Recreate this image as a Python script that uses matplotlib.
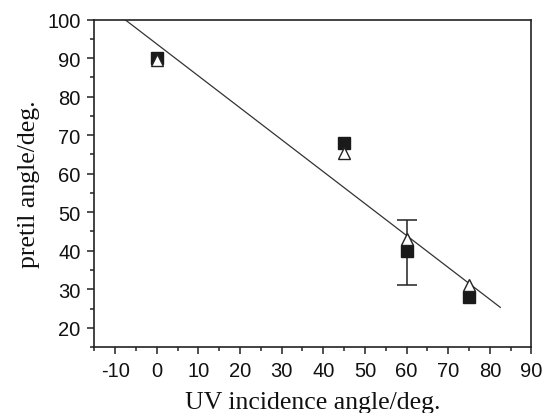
import matplotlib
matplotlib.use("Agg")
import matplotlib.pyplot as plt
from matplotlib.ticker import MultipleLocator

plt.rcParams['axes.unicode_minus'] = False

sq_x = [0, 45, 60, 75]
sq_y = [90, 68, 40, 28]
tri_x = [0, 45, 60, 75]
tri_y = [89.5, 65.5, 43, 31]
err_x = [60]
err_y = [40]
err_lo = [9]
err_hi = [8]
fit_x = [-7.6, 82.5]
fit_y = [100, 25.3]

fig = plt.figure(figsize=(5.44, 4.14), dpi=100)
ax = fig.add_axes([0.1733, 0.1594, 0.8037, 0.7906])

ax.plot(fit_x, fit_y, color='#333333', lw=0.9, zorder=2)
ax.errorbar(err_x, err_y, yerr=[err_lo, err_hi], fmt='none', ecolor='#222222',
            elinewidth=1.1, capsize=7, capthick=1.1, zorder=3)
ax.plot(sq_x, sq_y, 's', ms=9, color='#1a1a1a', mec='#1a1a1a', zorder=4, ls='none')
ax.plot(tri_x, tri_y, '^', ms=9, mfc='white', mec='#222222', mew=1.0, zorder=5, ls='none')

ax.set_xlim(-15, 90)
ax.set_ylim(15, 100)
ax.xaxis.set_major_locator(MultipleLocator(10))
ax.xaxis.set_minor_locator(MultipleLocator(5))
ax.yaxis.set_major_locator(MultipleLocator(10))
ax.yaxis.set_minor_locator(MultipleLocator(5))
ax.set_yticks(range(20, 101, 10))
ax.tick_params(which='both', direction='out', top=False, right=False, width=1.1, color='#222222')
ax.tick_params(which='major', length=5, labelsize=14.5, pad=5)
ax.tick_params(which='minor', length=3)
for lab in ax.get_xticklabels() + ax.get_yticklabels():
    lab.set_family('Liberation Sans')
    lab.set_color('#111111')
for s in ax.spines.values():
    s.set_linewidth(1.2)
    s.set_color('#222222')

ax.set_xlabel('UV incidence angle/deg.', family='Liberation Serif', fontsize=18.5, labelpad=8, color='#111111')
ax.set_ylabel('pretil angle/deg.', family='Liberation Serif', fontsize=18.5, labelpad=5, color='#111111')

fig.savefig('out.png', dpi=100)
